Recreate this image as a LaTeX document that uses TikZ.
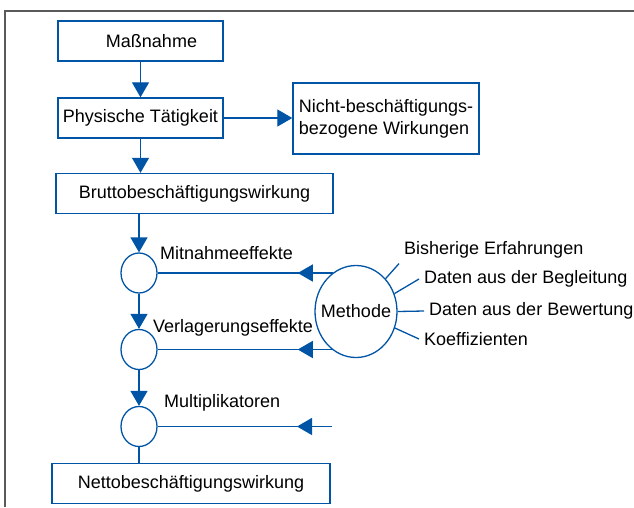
\documentclass[tikz,border=0pt]{standalone}
\usepackage{fontspec}
\setmainfont{Liberation Sans}
\usetikzlibrary{arrows.meta,shapes.geometric,decorations.markings}
\definecolor{flowblue}{RGB}{0,84,166}
\definecolor{framegray}{RGB}{90,90,90}

\begin{document}
\begin{tikzpicture}[x=1pt,y=-1pt,
    font=\fontsize{18}{22}\selectfont,
    box/.style={draw=flowblue, line width=1.4pt, inner sep=0pt, minimum height=40pt},
    knot/.style={ellipse, draw=flowblue, line width=1.3pt, inner sep=0pt, minimum width=36pt, minimum height=40pt},
    lbl/.style={inner sep=5pt},
    link/.style={draw=flowblue, line width=1.3pt},
    arr/.style={link, -{Triangle[length=15pt,width=17pt]}},
    midarr/.style={link, postaction={decorate},
      decoration={markings, mark=at position 35pt with {\arrow{Triangle[length=15pt,width=17pt]}}}}]
  \useasboundingbox (0,0) rectangle (634,507);
  \draw[framegray, line width=1.5pt] (634,11) -- (5,11) -- (5,507);

  % main chain
  \node[box, minimum width=165pt] (mass) at (140.5,41) {\hspace*{22pt}Maßnahme};
  \node[box, minimum width=165pt] (phys) at (140.5,118) {Physische Tätigkeit};
  \node[box, minimum width=186pt, minimum height=71pt, align=left] (nicht) at (386,118.5)
    {Nicht-beschäftigungs-\\bezogene Wirkungen};
  \node[box, minimum width=277pt] (brutto) at (194.5,193.5) {Bruttobeschäftigungswirkung};
  \node[knot] (c1) at (139,273) {};
  \node[knot] (c2) at (139,349.5) {};
  \node[knot] (c3) at (139,426.5) {};
  \node[box, minimum width=278pt] (netto) at (191,483.5) {Nettobeschäftigungswirkung};
  \node[knot, minimum width=82pt, minimum height=92pt] (meth) at (356,311.5) {\makebox[0pt]{Methode}};

  \node[lbl, anchor=west] (mit) at (155,253) {Mitnahmeeffekte};
  \node[lbl, anchor=west] (verl) at (148,328) {Verlagerungseffekte};
  \node[lbl, anchor=west] (mult) at (159,403) {Multiplikatoren};

  \node[lbl, anchor=west] (erf) at (399,250) {Bisherige Erfahrungen};
  \node[lbl, anchor=west] (begl) at (419,279) {Daten aus der Begleitung};
  \node[lbl, anchor=west] (bew) at (424,311) {Daten aus der Bewertung};
  \node[lbl, anchor=west] (koef) at (419,339) {Koeffizienten};

  \draw[arr] (mass) -- (phys);
  \draw[arr] (phys.east) -- (phys.east -| nicht.west);
  \draw[arr] (phys.south) -- (phys.south |- brutto.north);
  \draw[arr] (brutto.south -| c1) -- (c1.north);
  \draw[arr] (c1) -- (c2);
  \draw[arr] (c2) -- (c3);
  \draw[link] (c3) -- (netto.north -| c3);

  % inputs from the method
  \coordinate (mfree) at (332,426.5);
  \draw[midarr] (meth.121 |- c1.east) -- (c1.east);
  \draw[midarr] (meth.239 |- c2.east) -- (c2.east);
  \draw[midarr] (mfree) -- (c3.east);
  \draw[link] (meth.48) -- (erf.south west);
  \draw[link] (meth.25) -- (begl.west);
  \draw[link] (meth.east) -- (bew.west);
  \draw[link] (meth.337) -- (koef.west);
\end{tikzpicture}
\end{document}
